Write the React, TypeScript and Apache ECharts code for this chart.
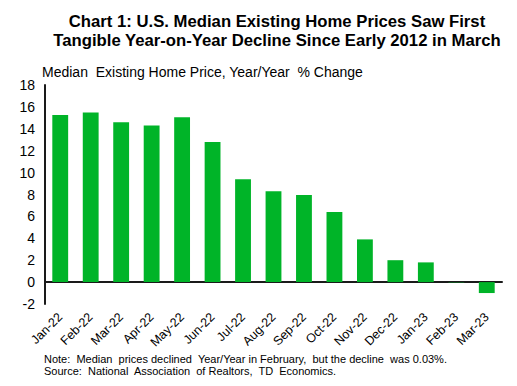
import React, { useEffect, useRef } from "react";
import * as echarts from "echarts";

const categories = ["Jan-22","Feb-22","Mar-22","Apr-22","May-22","Jun-22","Jul-22","Aug-22","Sep-22","Oct-22","Nov-22","Dec-22","Jan-23","Feb-23","Mar-23"];
const values = [15.25, 15.5, 14.6, 14.3, 15.05, 12.8, 9.4, 8.3, 7.95, 6.4, 3.9, 2.0, 1.8, -0.03, -1.0];
const yTicks = { min: -2, max: 18, interval: 2 };
const titleLines = "Chart 1: U.S. Median Existing Home Prices Saw First\nTangible Year-on-Year Decline Since Early 2012 in March";
const subtitle = "Median  Existing Home Price, Year/Year  % Change";
const noteLines = [
  "Note:  Median  prices declined  Year/Year in February,  but the decline  was 0.03%.",
  "Source:  National  Association  of Realtors,  TD  Economics.",
];

export default function App() {
  const ref = useRef<HTMLDivElement>(null);
  useEffect(() => {
    if (!ref.current) return;
    const chart = echarts.init(ref.current, undefined, { renderer: "svg" });
    const font = "Arial, 'Liberation Sans', sans-serif";
    chart.setOption({
      animation: false,
      backgroundColor: "#ffffff",
      title: {
        text: titleLines,
        left: 272,
        textAlign: "center",
        top: 7,
        textStyle: { fontFamily: font, fontSize: 16.7, fontWeight: "bold", color: "#000", lineHeight: 19 },
      },
      graphic: [
        { type: "text", left: 42, top: 65, style: { text: subtitle, font: `14px ${font}`, fill: "#000" } },
        { type: "text", left: 44, top: 353, style: { text: noteLines[0], font: `11px ${font}`, fill: "#000" } },
        { type: "text", left: 44, top: 365, style: { text: noteLines[1], font: `11px ${font}`, fill: "#000" } },
      ],
      grid: { left: 45, right: 15, top: 85, bottom: 82, containLabel: false },
      xAxis: {
        type: "category",
        data: categories,
        axisLine: { onZero: true, lineStyle: { color: "#1a1a1a", width: 2 } },
        axisTick: { show: false },
        axisLabel: { rotate: 45, fontFamily: font, fontSize: 12.5, color: "#000", margin: 11, interval: 0 },
      },
      yAxis: {
        type: "value",
        min: yTicks.min,
        max: yTicks.max,
        interval: yTicks.interval,
        splitLine: { show: false },
        axisLine: { show: true, lineStyle: { color: "#1a1a1a", width: 2 } },
        axisTick: { show: false },
        axisLabel: { fontFamily: font, fontSize: 14, color: "#000", margin: 10 },
      },
      series: [
        {
          type: "bar",
          data: values,
          barWidth: "52%",
          itemStyle: { color: "#00B428" },
        },
      ],
    });
    return () => chart.dispose();
  }, []);
  return <div ref={ref} style={{ width: 517, height: 386, position: "absolute", left: 0, top: 0 }} />;
}
